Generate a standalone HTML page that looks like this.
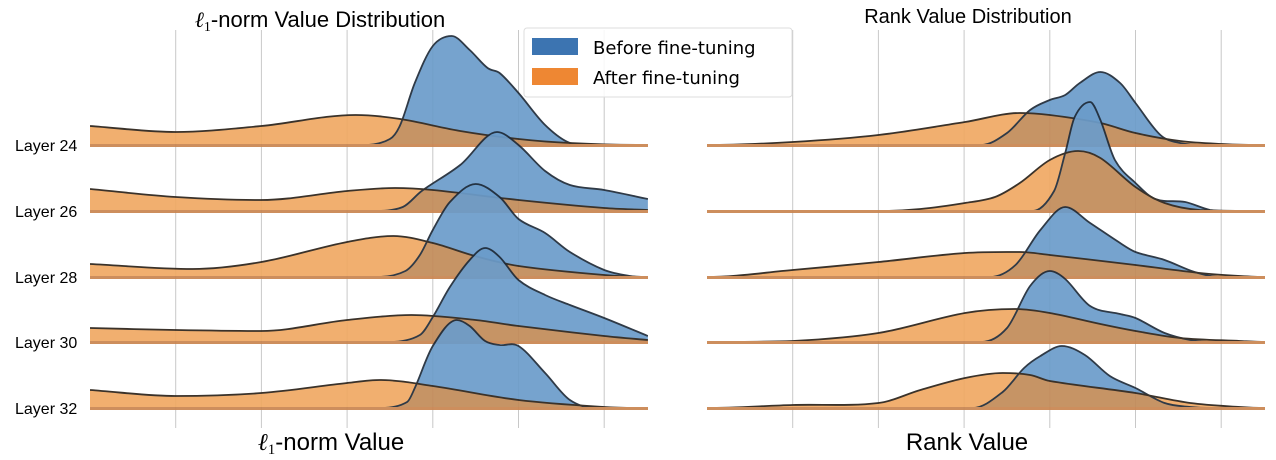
<!DOCTYPE html>
<html><head><meta charset="utf-8"><style>
body{margin:0;background:#fff;}
svg{display:block;font-family:"Liberation Sans",sans-serif;}
</style></head><body>
<svg id="chart" width="1276" height="460" viewBox="0 0 1276 460">
<g id="grid"></g>
<g id="plots"></g>
<text x="320" y="27" font-size="22" text-anchor="middle"><tspan font-family="Liberation Serif" font-style="italic">ℓ</tspan><tspan font-size="14" dy="4" font-family="Liberation Serif">1</tspan><tspan dy="-4">-norm Value Distribution</tspan></text>
<text x="968" y="23" font-size="20" text-anchor="middle">Rank Value Distribution</text>
<text x="331" y="450" font-size="24" text-anchor="middle"><tspan font-family="Liberation Serif" font-style="italic">ℓ</tspan><tspan font-size="15" dy="4" font-family="Liberation Serif">1</tspan><tspan dy="-4">-norm Value</tspan></text>
<text x="967" y="450" font-size="24" text-anchor="middle">Rank Value</text>
<g>
<rect x="524" y="28" width="268" height="69" rx="3" fill="#fff" fill-opacity="0.85" stroke="#ddd"/>
<rect x="532" y="38" width="46" height="17" fill="#3c74b1"/>
<text x="593" y="54" font-size="18" font-family="DejaVu Sans, sans-serif">Before fine-tuning</text>
<rect x="532" y="68" width="46" height="17" fill="#ee8733"/>
<text x="593" y="84" font-size="18" font-family="DejaVu Sans, sans-serif">After fine-tuning</text>
</g>
</svg>
<script>
const layers = ["Layer 24","Layer 26","Layer 28","Layer 30","Layer 32"];
const gridTicks = [1,2,3,4,5,6];
// Left panel (l1-norm): [x, density] pairs
const l1Before = [
 [[3.2,0],[3.5,0.06],[3.62,0.2],[3.79,0.62],[4.0,0.99],[4.22,1.09],[4.43,0.95],[4.64,0.77],[4.78,0.72],[5.0,0.52],[5.31,0.2],[5.6,0.02],[5.9,0]],
 [[3.3,0],[3.65,0.04],[3.87,0.2],[4.32,0.46],[4.75,0.79],[5.0,0.66],[5.31,0.4],[5.6,0.26],[6.0,0.21],[6.51,0.12]],
 [[3.35,0],[3.68,0.06],[3.85,0.22],[4.0,0.47],[4.2,0.75],[4.5,0.93],[4.78,0.8],[5.0,0.58],[5.31,0.44],[5.6,0.25],[6.0,0.07],[6.3,0.01],[6.51,0]],
 [[3.5,0],[3.85,0.07],[4.0,0.25],[4.2,0.55],[4.43,0.82],[4.61,0.94],[4.78,0.85],[5.0,0.62],[5.31,0.47],[5.6,0.37],[6.0,0.24],[6.51,0.06]],
 [[3.4,0],[3.7,0.06],[3.79,0.2],[4.0,0.62],[4.28,0.88],[4.43,0.82],[4.61,0.67],[4.78,0.63],[5.0,0.62],[5.31,0.35],[5.6,0.08],[5.9,0],[6.51,0]]
];
const l1After = [
 [[0,0.19],[1.0,0.13],[2.0,0.19],[3.1,0.3],[3.62,0.26],[4.32,0.14],[5.0,0.06],[5.6,0.02],[6.51,0]],
 [[0,0.22],[1.0,0.14],[2.0,0.11],[3.0,0.2],[3.56,0.23],[4.0,0.21],[5.0,0.11],[6.0,0.03],[6.51,0.01]],
 [[0,0.13],[1.2,0.08],[2.0,0.15],[3.0,0.35],[3.54,0.41],[4.0,0.34],[4.49,0.21],[5.0,0.11],[6.0,0.02],[6.51,0]],
 [[0,0.14],[1.0,0.12],[2.0,0.11],[3.0,0.22],[3.75,0.27],[4.5,0.22],[5.0,0.16],[6.0,0.06],[6.51,0.02]],
 [[0,0.18],[1.0,0.12],[2.0,0.15],[3.0,0.25],[3.38,0.28],[4.0,0.22],[5.0,0.08],[6.0,0.01],[6.51,0]]
];
// Right panel (rank)
const rankBefore = [
 [[3.2,0],[3.5,0.12],[3.77,0.35],[4.0,0.45],[4.18,0.5],[4.35,0.62],[4.59,0.73],[4.82,0.62],[5.0,0.42],[5.29,0.1],[5.52,0.02],[5.8,0]],
 [[3.8,0],[4.05,0.2],[4.18,0.58],[4.29,0.94],[4.47,1.09],[4.59,0.91],[4.76,0.51],[5.0,0.28],[5.23,0.12],[5.58,0.09],[5.87,0.01],[6.1,0]],
 [[3.3,0],[3.6,0.12],[3.89,0.47],[4.18,0.7],[4.47,0.54],[4.82,0.34],[5.0,0.25],[5.34,0.17],[5.69,0.05],[5.99,0]],
 [[3.2,0],[3.5,0.14],[3.77,0.56],[4.0,0.71],[4.18,0.63],[4.47,0.36],[4.82,0.28],[5.0,0.24],[5.34,0.09],[5.64,0.02],[5.9,0]],
 [[3.1,0],[3.45,0.16],[3.7,0.4],[3.89,0.52],[4.14,0.62],[4.41,0.53],[4.7,0.32],[5.0,0.2],[5.34,0.05],[5.64,0.01],[5.9,0]]
];
const rankAfter = [
 [[0,0],[1,0.03],[2,0.1],[3.01,0.23],[3.65,0.32],[4.0,0.3],[4.59,0.22],[5.0,0.12],[5.52,0.04],[6.01,0.01],[6.51,0]],
 [[0,0],[2.0,0],[2.49,0.02],[3.01,0.08],[3.36,0.14],[3.65,0.28],[4.0,0.51],[4.33,0.6],[4.59,0.53],[5.0,0.24],[5.34,0.08],[5.75,0.01],[6.51,0]],
 [[0,0],[1,0.07],[2,0.15],[3.01,0.24],[3.65,0.25],[4.0,0.22],[5.0,0.12],[5.75,0.04],[6.22,0.01],[6.51,0]],
 [[0,0],[1,0.01],[2,0.09],[3.01,0.29],[3.59,0.33],[4.0,0.29],[4.59,0.18],[5.0,0.11],[5.52,0.04],[6.22,0.01],[6.51,0]],
 [[0,0],[1,0.03],[2,0.05],[2.49,0.18],[3.01,0.3],[3.45,0.35],[3.77,0.33],[4.0,0.27],[5.0,0.15],[5.64,0.05],[6.22,0.01],[6.51,0]]
];

const NS="http://www.w3.org/2000/svg";
const svg=document.getElementById('chart');
const gridG=document.getElementById('grid');
const plotsG=document.getElementById('plots');
const baselines=[145,211,277,342,408];
const unitPx=85.7, densPx=100;
const panels=[{x0:90,before:l1Before,after:l1After,name:'l1'},{x0:707,before:rankBefore,after:rankAfter,name:'rank'}];
function mk(t,a){const e=document.createElementNS(NS,t);for(const k in a)e.setAttribute(k,a[k]);return e;}
function pathFor(pts,xs,ys,base,closed){
  const P=pts.map(p=>[xs(p[0]),ys(p[1])]);
  const n=P.length, s=[];
  for(let i=0;i<n;i++){
    if(i===0||i===n-1){
      s[i]=(P[i][1]>=base-0.5)?0:(P[i===0?1:i][1]-P[i===0?0:i-1][1])/(P[i===0?1:i][0]-P[i===0?0:i-1][0]);
      continue;
    }
    const d1=P[i][1]-P[i-1][1], d2=P[i+1][1]-P[i][1];
    if(d1*d2<=0) s[i]=0;
    else s[i]=(P[i+1][1]-P[i-1][1])/(P[i+1][0]-P[i-1][0]);
  }
  let d='M'+P[0][0].toFixed(1)+','+P[0][1].toFixed(1);
  for(let i=0;i<n-1;i++){
    const dx=(P[i+1][0]-P[i][0])/3;
    let c1y=Math.min(P[i][1]+dx*s[i],base), c2y=Math.min(P[i+1][1]-dx*s[i+1],base);
    d+='C'+(P[i][0]+dx).toFixed(1)+','+c1y.toFixed(1)+' '+(P[i+1][0]-dx).toFixed(1)+','+c2y.toFixed(1)+' '+P[i+1][0].toFixed(1)+','+P[i+1][1].toFixed(1);
  }
  if(closed)d+='L'+P[n-1][0].toFixed(1)+','+base+'L'+P[0][0].toFixed(1)+','+base+'Z';
  return d;
}
panels.forEach((pn,pi)=>{
  const xs=v=>pn.x0+v*unitPx;
  gridTicks.forEach(t=>{
    const l=mk('line',{x1:xs(t),x2:xs(t),y1:30,y2:428,stroke:'#c8c8c8','stroke-width':1});
    
    
    gridG.appendChild(l);
  });
  const clip=mk('clipPath',{id:'pc'+pi});clip.appendChild(mk('rect',{x:pn.x0,y:0,width:558,height:460}));svg.appendChild(clip);
  layers.forEach((lay,li)=>{
    const base=baselines[li];
    const ys=d=>base-d*densPx;
    const g=mk('g',{'clip-path':'url(#pc'+pi+')',opacity:0.92});
    
    
    const aD=pathFor(pn.after[li],xs,ys,base,true);
    const bD=pathFor(pn.before[li],xs,ys,base,true);
    const cid='oc'+pi+'_'+li;
    const cp=mk('clipPath',{id:cid});cp.appendChild(mk('path',{d:aD}));svg.appendChild(cp);
    const af=mk('path',{d:aD,fill:'#f0a963'});
    g.appendChild(af);
    const bf=mk('path',{d:bD,fill:'#6b9cca'});
    g.appendChild(bf);
    const ov=mk('path',{d:bD,fill:'#c28b59','clip-path':'url(#'+cid+')'});
    g.appendChild(ov);
    const bl=mk('path',{d:pathFor(pn.before[li],xs,ys,base,false),fill:'none',stroke:'#1e2a38','stroke-width':1.8});
    g.appendChild(bl);
    const al=mk('path',{d:pathFor(pn.after[li],xs,ys,base,false),fill:'none',stroke:'#2a2118','stroke-width':1.8});
    g.appendChild(al);
    const bs=mk('line',{x1:pn.x0,x2:pn.x0+558,y1:base+0.5,y2:base+0.5,stroke:'#c98550','stroke-width':3});
    g.appendChild(bs);
    plotsG.appendChild(g);
    if(pi===0){
      const t=mk('text',{x:15,y:base+6,'font-size':16});
      t.textContent=lay;
      
      
      svg.appendChild(t);
    }
  });
});
</script>
</body></html>
